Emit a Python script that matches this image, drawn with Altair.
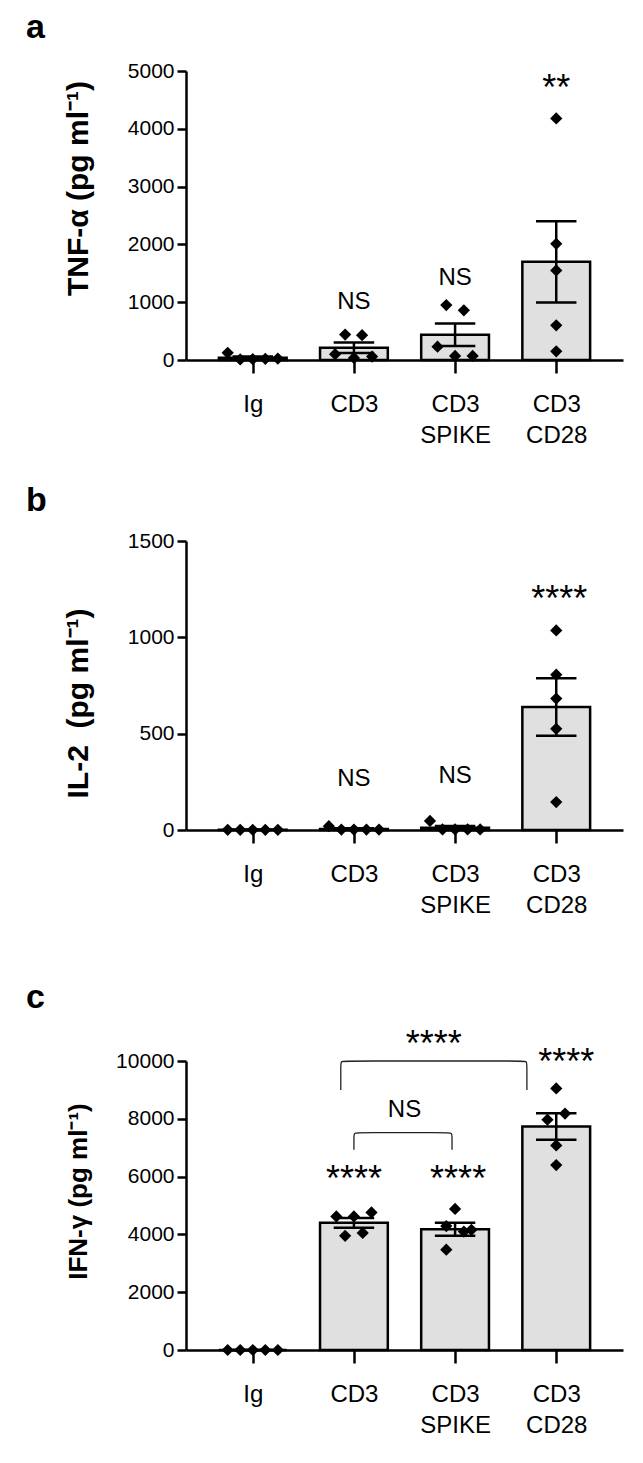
import json
import altair as alt
import pandas as pd

FONT = "Liberation Sans"

groups = ["Ig", "CD3", "CD3\nSPIKE", "CD3\nCD28"]

# panel a: TNF-alpha (pg/ml), five donors per condition
tnf_values = [[125, 10, 15, 20, 25],
              [100, 440, 35, 430, 60],
              [230, 950, 70, 860, 70],
              [4180, 2010, 1550, 600, 150]]
tnf_slots = [[-2, -1, 0, 1, 2],
             [-1.5, -0.7, 0, 0.65, 1.45],
             [-1.4, -0.7, 0, 0.7, 1.4],
             [0, 0, 0, 0, 0]]
tnf_note_text = ["NS", "NS", "**"]
tnf_note_x = [1, 2, 3]
tnf_note_y = [1000, 1420, 4680]

# panel b: IL-2 (pg/ml)
il2_values = [[1, 1, 1, 1, 1],
              [20, 2, 2, 2, 2],
              [47, 3, 3, 3, 3],
              [1036, 806, 682, 525, 145]]
il2_slots = [[-2, -1, 0, 1, 2],
             [-2, -1, 0, 1, 2],
             [-2, -1, 0, 1, 2],
             [0, 0, 0, 0, 0]]
il2_note_text = ["NS", "NS", "****"]
il2_note_x = [1, 2, 3.03]
il2_note_y = [264, 280, 1196]

# panel c: IFN-gamma (pg/ml)
ifn_values = [[0, 0, 0, 0, 0],
              [4620, 3950, 4620, 4050, 4760],
              [4290, 3470, 4880, 4100, 4160],
              [7970, 9050, 7080, 6400, 8180]]
ifn_slots = [[-2, -1, 0, 1, 2],
             [-1.4, -0.7, 0, 0.7, 1.4],
             [-0.7, -0.7, 0, 0.7, 1.3],
             [-0.7, 0, 0, 0, 0.7]]
ifn_note_text = ["****", "****", "****", "****", "NS"]
ifn_note_x = [1, 2.03, 3.1, 1.79, 1.5]
ifn_note_y = [5896, 5896, 9945, 10567, 8310]
# comparison brackets: start, end (category units), top level, leg end level
ifn_bracket_x0 = [0.87, 1.0]
ifn_bracket_x1 = [2.71, 1.97]
ifn_bracket_top = [10000, 7520]
ifn_bracket_bottom = [9000, 6930]

W, H = 437, 289
XDOM = [-0.66, 3.66]
HALF_BAR = 0.335
CAP = 0.2
SLOT = 0.124

label_lines = [g.split("\n") for g in groups]
label_expr = json.dumps(label_lines) + "[datum.value]"


def points_df(values, slots):
    rows = []
    for gi, (vals, sl) in enumerate(zip(values, slots)):
        for v, s in zip(vals, sl):
            rows.append({"gi": gi, "value": v, "slot": s})
    return pd.DataFrame(rows)


def panel(letter, ytitle, tsize, tx, ty, values, slots, ymax, ystep, ntext, nx, ny,
          bx0=None, bx1=None, btop=None, bbot=None, title_offset=12):
    df = points_df(values, slots)
    xs = alt.Scale(domain=XDOM, nice=False, zero=False)
    ys = alt.Scale(domain=[0, ymax], nice=False, zero=True)
    xaxis = alt.Axis(values=[0, 1, 2, 3], labelExpr=label_expr, grid=False, title=None,
                     domainWidth=2.5, domainColor="black", tickColor="black",
                     tickWidth=2.5, tickSize=13, labelFontSize=24, labelFont=FONT,
                     labelColor="black", labelPadding=19, labelBaseline="top",
                     labelLineHeight=31, labelFlush=False, labelOverlap=False)
    yaxis = alt.Axis(values=list(range(0, ymax + 1, ystep)), format="d", grid=False,
                     title=ytitle, titleFont=FONT, titleFontSize=tsize, titleFontWeight="bold",
                     titleColor="black", titleX=tx, titleY=ty,
                     labelFontSize=21, labelFont=FONT, labelColor="black", labelPadding=3,
                     tickSize=9, tickWidth=2.5, tickColor="black", domainWidth=2.5,
                     domainColor="black", labelFlush=False, labelOverlap=False)

    def X(f):
        return alt.X(f, scale=xs, axis=xaxis)

    def Y(f):
        return alt.Y(f, scale=ys, axis=yaxis)

    agg = alt.Chart(df).transform_aggregate(
        mean="mean(value)", sem="stderr(value)", groupby=["gi"]
    ).transform_calculate(
        x1=f"datum.gi - {HALF_BAR}", x2=f"datum.gi + {HALF_BAR}",
        c1=f"datum.gi - {CAP}", c2=f"datum.gi + {CAP}",
        lo="datum.mean - datum.sem", hi="datum.mean + datum.sem",
    )
    rects = agg.mark_rect(fill="#e0e0e0", stroke="black", strokeWidth=2.5).encode(
        x=X("x1:Q"), x2="x2:Q", y=Y("mean:Q"), y2=alt.datum(0))
    stem = agg.mark_rule(color="black", strokeWidth=2.5).encode(
        x=X("gi:Q"), y=Y("lo:Q"), y2="hi:Q")
    cap_hi = agg.mark_rule(color="black", strokeWidth=2.5).encode(
        x=X("c1:Q"), x2="c2:Q", y=Y("hi:Q"))
    cap_lo = agg.mark_rule(color="black", strokeWidth=2.5).encode(
        x=X("c1:Q"), x2="c2:Q", y=Y("lo:Q"))
    pts = alt.Chart(df).transform_calculate(px=f"datum.gi + datum.slot * {SLOT}").mark_point(
        shape="diamond", filled=True, size=150, color="black", opacity=1).encode(
        x=X("px:Q"), y=Y("value:Q"))
    notes = pd.DataFrame({"t": ntext, "nx": nx, "ny": ny,
                          "fs": [24 if t == "NS" else 36 for t in ntext]})
    txt = alt.Chart(notes).mark_text(font=FONT, color="black", baseline="middle",
                                     align="center").encode(
        x=X("nx:Q"), y=Y("ny:Q"), text="t:N", size=alt.Size("fs:Q", scale=None))
    layers = [rects, pts, stem, cap_hi, cap_lo, txt]
    if bx0:
        rx = 0.05
        ry = 5 * ymax / H
        rows = []
        for b, (a0, a1, t, bt) in enumerate(zip(bx0, bx1, btop, bbot)):
            path = [(a0, bt), (a0, t - ry), (a0, t), (a0 + rx, t), (a1 - rx, t),
                    (a1, t), (a1, t - ry), (a1, bt)]
            for k, (px, py) in enumerate(path):
                rows.append({"b": b, "k": k, "bx": px, "by": py})
        bdf = pd.DataFrame(rows)
        br = alt.Chart(bdf).mark_line(interpolate="basis", color="#222222",
                                      strokeWidth=1.3).encode(
            x=X("bx:Q"), y=Y("by:Q"), detail="b:N", order="k:Q")
        layers.append(br)
    return alt.layer(*layers).properties(
        width=W, height=H,
        title=alt.TitleParams(letter, anchor="start", frame="group", dx=-160,
                              fontSize=34, fontWeight="bold", font=FONT, color="black",
                              offset=title_offset))


pa = panel("a", "TNF-α (pg ml⁻¹)", 30, -93, 117, tnf_values, tnf_slots, 5000, 1000,
           tnf_note_text, tnf_note_x, tnf_note_y, title_offset=15)
pb = panel("b", "IL-2\u00a0 (pg ml⁻¹)", 30, -93, 162, il2_values, il2_slots, 1500, 500,
           il2_note_text, il2_note_x, il2_note_y)
pc = panel("c", "IFN-γ (pg ml⁻¹)", 26, -95, 130, ifn_values, ifn_slots, 10000, 2000,
           ifn_note_text, ifn_note_x, ifn_note_y,
           ifn_bracket_x0, ifn_bracket_x1, ifn_bracket_top, ifn_bracket_bottom)

chart = alt.vconcat(alt.vconcat(pa, pb, spacing=37), pc, spacing=63).configure_view(
    stroke=None).properties(padding={"left": 18, "top": 3, "right": 5, "bottom": 5})

chart.save("out.html", embed_options={"renderer": "svg", "actions": False})
